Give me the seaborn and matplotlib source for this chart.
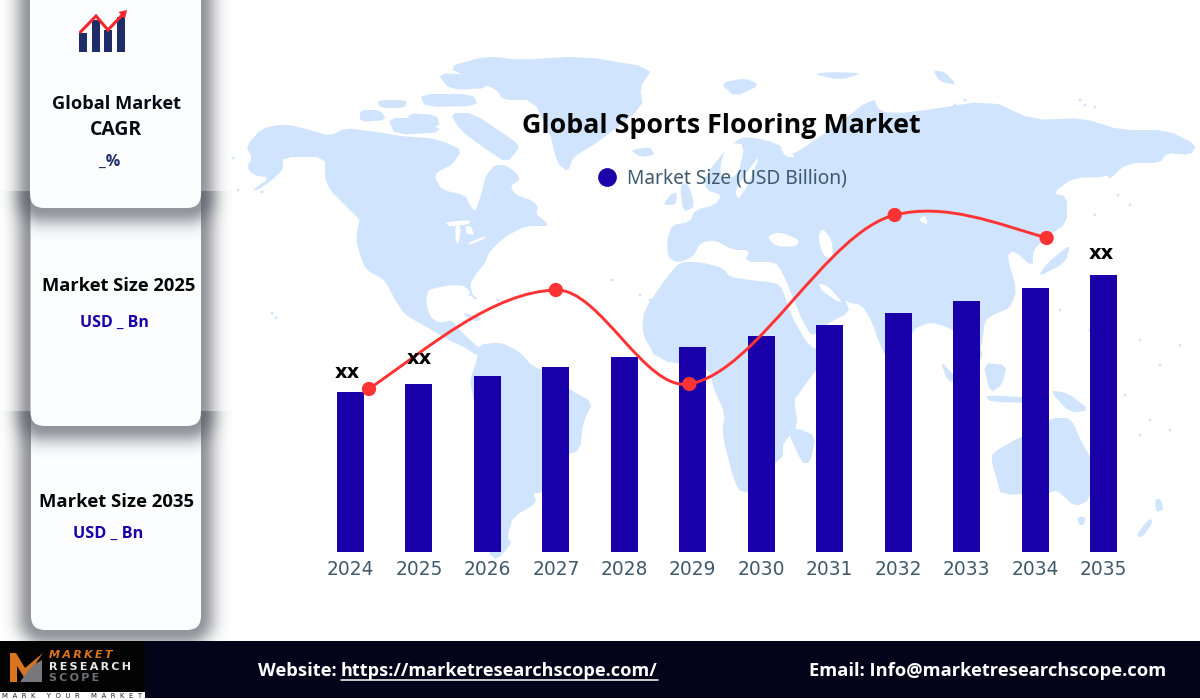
import numpy as np
import pandas as pd
import matplotlib
matplotlib.use("Agg")
import matplotlib.pyplot as plt
import matplotlib.font_manager as fm
import matplotlib.patheffects as pe
import seaborn as sns
from matplotlib.patches import Polygon, Rectangle, PathPatch, FancyBboxPatch, Circle
from matplotlib.path import Path
from matplotlib.lines import Line2D

# ---------- data ----------
years = ["2024", "2025", "2026", "2027", "2028", "2029", "2030", "2031", "2032", "2033", "2034", "2035"]
market_size = [1.60, 1.68, 1.76, 1.85, 1.95, 2.05, 2.16, 2.27, 2.39, 2.51, 2.64, 2.77]
curve_x = [0.27, 3.0, 4.95, 7.95, 10.17]
curve_y = [1.63, 2.62, 1.68, 3.37, 3.14]
curve_slope = [0.48, 0.02, 0.12, 0.17, -0.20]
xx_x = [-0.05, 1.0, 10.97]
xx_y = [1.80, 1.94, 2.98]
title_text = "Global Sports Flooring Market"
legend_text = "Market Size (USD Billion)"

NAVY = "#1a00a8"
RED = "#ff3333"
MAP = "#d0e5fd"
SLATE = "#3f5a6c"
FONT = "Noto Sans"


def _weight(f):
    return f.weight if isinstance(f.weight, int) else fm.weight_dict.get(str(f.weight), 400)


BOLD_FONT = None
for cand in ["Noto Sans", "Open Sans", "Lato", "Roboto", "Inter"]:
    if any(f.name == cand and _weight(f) >= 600 for f in fm.fontManager.ttflist):
        BOLD_FONT = cand
        break
FAKE = BOLD_FONT is None
if FAKE:
    BOLD_FONT = FONT

sns.set_theme(style="white")
plt.rcParams["font.family"] = [FONT, "DejaVu Sans"]

fig = plt.figure(figsize=(12, 7), dpi=100, facecolor="white")
bg = fig.add_axes([0, 0, 1, 1], zorder=0)
bg.set_xlim(0, 1200)
bg.set_ylim(700, 0)
bg.axis("off")
renderer = fig.canvas.get_renderer()


def bold_text(owner, x, y, s, width, color, z=9, ha="center", **kw):
    """Bold text scaled so that it spans the given width in pixels."""
    t = owner.text(x, y + 2, s, ha=ha, va="center", fontsize=12, fontweight="bold", color=color,
                   family=BOLD_FONT, zorder=z, **kw)
    t.set_fontsize(12 * width / t.get_window_extent(renderer).width)
    if FAKE:
        t.set_path_effects([pe.withStroke(linewidth=0.75, foreground=color)])
    return t


def chaikin(pts, n=1):
    p = np.asarray(pts, float)
    for _ in range(n):
        q = np.roll(p, -1, axis=0)
        p = np.column_stack([0.8 * p + 0.2 * q, 0.2 * p + 0.8 * q]).reshape(-1, 2)
    return p


def land(pts, color=MAP, z=1, n=1):
    bg.add_patch(Polygon(chaikin(pts, n), closed=True, fc=color, ec="none", zorder=z))


# ---------- world map backdrop ----------
north_america = [(246,146),(262,128),(285,124),(310,130),(330,136),(345,128),(378,132),(400,136),(430,138),(445,142),(462,150),
    (452,165),(437,172),(435,178),(442,190),(465,195),(470,205),(475,212),(481,195),(486,175),(495,165),(505,165),(516,172),(520,180),
    (510,186),(516,195),(531,200),(538,206),(536,214),(546,222),(548,226),(526,226),(508,235),(497,244),(488,254),(486,262),(476,274),
    (470,284),(473,296),(478,298),(474,300),(466,286),(450,285),(436,288),(428,290),(426,304),(431,318),(440,323),(452,320),(458,328),
    (470,340),(484,352),(478,356),(462,346),(448,340),(425,326),(405,315),(395,300),(385,280),(366,270),(360,255),(356,240),(358,226),
    (360,220),(342,202),(330,190),(325,178),(325,157),(283,157),(283,170),(272,180),(258,190),(252,190),(270,178),(253,175),(247,167),(252,158)]
greenland = [(447,67),(487,56),(520,60),(583,56),(653,68),(640,87),(643,107),(597,143),(573,157),(568,172),(557,163),(550,133),(533,100),(503,100),(497,90),(473,80)]
arctic = [
    [(450,113),(473,113),(513,140),(520,147),(507,163),(487,150),(460,130)],
    [(360,110),(380,110),(387,120),(360,122)],
    [(407,113),(437,115),(440,127),(412,128)],
    [(377,100),(407,100),(405,108),(380,108)],
    [(437,73),(477,75),(490,88),(450,90)],
    [(420,94),(473,94),(478,106),(425,107)],
    [(388,118),(420,118),(445,132),(395,135)],
    [(630,150),(650,147),(655,155),(640,157)],
    [(663,205),(670,195),(677,192),(676,205)],
    [(680,185),(688,183),(695,207),(683,212)],
]
south_america = [(478,345),(500,342),(520,352),(533,367),(552,372),(570,390),(593,402),(583,423),(580,450),(567,455),(542,493),(533,493),(537,503),(513,517),(507,537),(512,543),(497,560),(488,553),(490,510),(490,470),(478,425),(473,397),(470,380),(477,360)]
africa = [(667,277),(680,262),(700,262),(723,268),(730,277),(750,280),(777,283),(783,290),(790,313),(809,347),(830,352),(816,370),(798,395),(794,400),(798,427),(783,443),(783,457),(775,463),(748,493),(738,490),(731,470),(722,433),(725,413),(714,390),(709,368),(657,360),(642,333),(644,310)]
eurasia = [(667,240),(672,225),(690,222),(695,210),(715,205),(722,195),(706,190),(705,175),(730,145),(745,136),(777,143),(790,155),(800,150),(815,140),(830,130),(873,97),(880,112),(907,113),(990,100),(1033,120),(1083,118),(1120,130),(1167,130),(1197,145),(1190,155),(1167,153),(1160,163),(1130,163),(1107,177),(1073,178),(1053,193),(1067,197),(1067,223),(1047,237),(1033,250),(1033,267),(1013,250),(1007,257),(1017,290),(1010,308),(995,314),(985,320),(982,345),(975,362),(965,340),(950,328),(930,322),(912,330),(895,375),(880,345),(872,322),(862,305),(850,303),(845,300),(850,312),(825,325),(812,337),(802,320),(790,290),(782,272),(775,262),(745,262),(750,250),(733,250),(715,240),(700,243),(693,257),(677,263),(668,257)]
others = [
    [(788,432),(797,428),(816,436),(810,463),(802,463)],
    [(983,363),(1007,365),(1002,385),(990,393)],
    [(1049,390),(1068,393),(1090,410),(1070,413)],
    [(992,453),(1020,437),(1040,432),(1050,418),(1071,418),(1082,443),(1095,465),(1090,500),(1075,507),(1057,490),(1049,493),(1001,495),(997,480),(992,463)],
    [(1077,517),(1086,517),(1084,525),(1079,525)],
    [(1136,535),(1150,518),(1153,522),(1142,538)],
    [(1155,500),(1160,498),(1164,510),(1156,512)],
    [(1067,247),(1070,247),(1065,263),(1038,277),(1047,263)],
    [(1115,150),(1128,160),(1110,180),(1105,172)],
    [(720,83),(745,78),(760,85),(735,97)],
    [(813,74),(830,72),(863,73),(840,80)],
    [(933,70),(945,72),(957,85),(940,82)],
    [(968,345),(984,350),(976,372)],
    [(940,360),(958,380),(948,382)],
    [(985,395),(1040,398),(1040,403),(990,402)],
    [(460,312),(483,318),(475,322)],
]
for shape in [north_america, greenland, south_america, africa, eurasia] + arctic + others:
    land(shape)

seas = [
    [(767,236),(780,232),(800,240),(795,247),(775,246)],
    [(822,228),(832,240),(833,260),(823,255),(818,238)],
    [(728,142),(745,145),(738,175),(722,180),(720,165)],
    [(735,190),(750,168),(760,155),(748,185),(738,200)],
    [(780,147),(790,150),(795,158),(785,156)],
    [(445,222),(470,220),(470,224),(450,227)],
    [(455,226),(461,226),(459,243),(456,243)],
    [(465,226),(471,226),(474,235),(467,234)],
    [(468,243),(485,236),(486,238),(470,245)],
    [(818,283),(828,286),(843,303),(835,300),(822,291)],
    [(925,215),(928,225),(918,220)],
]
for s in seas:
    land(s, "white", 1.1)
for (x, y) in [(233,158),(238,190),(262,192),(272,313),(276,318),(445,327),(470,295),(498,300),(612,280),(640,295),(650,300),
               (1090,330),(1060,310),(1092,352),(1110,358),(1140,340),(1160,365),(1180,345),(1115,420),(1140,435),(1125,395),(1150,420),(1170,430),
               (1095,215),(1118,195),(1130,205),(1145,155),(1080,100),(1085,105),(1095,107),(955,105),(965,100)]:
    bg.add_patch(Circle((x, y), 1.4, fc=MAP, ec="none", zorder=1))


# ---------- side cards with soft shadows ----------
def card(x0, top_visible, x1, y1, r, z):
    """Card whose upper part runs far above the crop that is drawn, so its shadow starts with a hard step."""
    y0 = top_visible - 200
    xs = np.arange(0, 232)
    ys = np.arange(max(top_visible, 0), min(y1 + 32, 700))
    X, Y = np.meshgrid(xs + 0.5, ys + 0.5)
    qx = np.abs(X - (x0 + x1) / 2) - (x1 - x0) / 2 + r
    qy = np.abs(Y - 2 - (y0 + y1) / 2) - (y1 - y0) / 2 + r
    d = np.maximum(np.hypot(np.maximum(qx, 0), np.maximum(qy, 0)) - r, 0)
    a = 0.62 * np.exp(-(d / 15.0) ** 2)
    rgba = np.zeros(X.shape + (4,))
    rgba[..., :3] = (0.33, 0.34, 0.38)
    rgba[..., 3] = a
    bg.imshow(rgba, extent=(0, 232, ys[-1] + 1, ys[0]), zorder=z, interpolation="bilinear", aspect="auto")
    bg.add_patch(FancyBboxPatch((x0 + r, y0 + r), x1 - x0 - 2 * r, y1 - y0 - 2 * r,
                                boxstyle=f"round,pad={r},rounding_size={r}", fc="#fcfdff", ec="none", zorder=z + 0.1))


card(31, 411, 201, 630, 14, 2)
card(30.5, 191, 201, 426, 14, 3)
card(30, 0, 201, 208, 14, 4)
bg.set_xlim(0, 1200)
bg.set_ylim(700, 0)

# icon in the first card
for bx, top in zip([79, 92, 104, 117], [33, 20, 30, 17]):
    bg.add_patch(Rectangle((bx, top), 8, 52 - top, fc="#1f2d66", ec="none", zorder=5))
bg.plot([80.5, 96, 108, 124], [32, 16, 30, 13], color="#f0282d", lw=2.2, zorder=6, solid_joinstyle="miter")
bg.add_patch(Polygon([(127, 10), (118.5, 12), (125, 19)], fc="#f0282d", ec="none", zorder=6))

card_texts = [
    (116.5, 102, "Global Market", 129, "#0a0a14"),
    (116, 128, "CAGR", 52, "#0a0a14"),
    (110, 160, "_%", 21, "#1f2d66"),
    (118.5, 284, "Market Size 2025", 153, "#050505"),
    (114.5, 321, "USD _ Bn", 69, NAVY),
    (116.5, 500, "Market Size 2035", 154, "#050505"),
    (108, 532, "USD _ Bn", 70, NAVY),
]
for x, y, s, w, c in card_texts:
    bold_text(bg, x, y, s, w, c, z=7)

# ---------- footer ----------
bg.add_patch(Rectangle((0, 641), 1200, 56.5, fc="#04031a", ec="none", zorder=8))
bg.add_patch(Rectangle((0, 641), 145, 51, fc="#030303", ec="none", zorder=8.1))
bg.add_patch(Rectangle((0, 692), 145, 8, fc="white", ec="none", zorder=8.1))
bg.add_patch(Polygon([(10, 653), (16, 653), (25, 668), (43, 653), (36, 663), (36, 669), (27, 682), (17, 666), (17, 682), (10, 682)],
                     fc="#d9741f", ec="none", zorder=8.2))
bg.add_patch(Polygon([(20, 682), (27, 672), (33, 665), (42, 660), (42, 682)], fc="#77777c", ec="none", zorder=8.2))
gap = "\u2009"
bg.text(49, 655.5, gap.join("MARKET"), color="#d9741f", fontsize=8, fontweight="bold", va="center", zorder=9, family="DejaVu Sans", style="italic")
bg.text(49, 667, gap.join("RESEARCH"), color="#e8e8e8", fontsize=8, fontweight="bold", va="center", zorder=9, family="DejaVu Sans")
bg.text(49, 678, gap.join("SCOPE"), color="#6d6f75", fontsize=8, fontweight="bold", va="center", zorder=9, family="DejaVu Sans")
bg.text(72.5, 696, "M  A  R  K     Y  O  U  R     M  A  R  K  E  T", color="#222222", fontsize=5, ha="center", va="center", zorder=9, family="DejaVu Sans")

bold_text(bg, 258, 669.5, "Website:", 79, "white", ha="left")
url = bold_text(bg, 341, 669.5, "https://marketresearchscope.com/", 315, "white", ha="left")
bold_text(bg, 809, 669.5, "Email: Info@marketresearchscope.com", 356, "white", ha="left")
ext = url.get_window_extent(renderer)
bg.plot([ext.x0, ext.x1], [680, 680], color="white", lw=1.1, zorder=9)

# ---------- main chart ----------
ax = fig.add_axes([316.3 / 1200, (700 - 552) / 700, 821.4 / 1200, 472 / 700], zorder=2)
ax.patch.set_alpha(0)
df = pd.DataFrame({"Year": years, "Market Size (USD Billion)": market_size})
sns.barplot(data=df, x="Year", y="Market Size (USD Billion)", color=NAVY, saturation=1, width=0.395, linewidth=0, ax=ax, zorder=3)
ax.set_xlim(-0.5, 11.5)
ax.set_ylim(0, 4.72)
ax.set_xlabel("")
ax.set_ylabel("")
ax.set_yticks([])
ax.tick_params(axis="x", length=0, pad=6)
for lab in ax.get_xticklabels():
    lab.set_fontsize(13.4)
    lab.set_color(SLATE)
    lab.set_family("DejaVu Sans")
sns.despine(ax=ax, left=True, bottom=True)

verts = [(curve_x[0], curve_y[0])]
codes = [Path.MOVETO]
for i in range(len(curve_x) - 1):
    dx = curve_x[i + 1] - curve_x[i]
    verts += [(curve_x[i] + dx / 3, curve_y[i] + curve_slope[i] * dx / 3),
              (curve_x[i + 1] - dx / 3, curve_y[i + 1] - curve_slope[i + 1] * dx / 3),
              (curve_x[i + 1], curve_y[i + 1])]
    codes += [Path.CURVE4] * 3
ax.add_patch(PathPatch(Path(verts, codes), fc="none", ec=RED, lw=2.1, zorder=4, capstyle="round"))
sns.scatterplot(x=curve_x, y=curve_y, color=RED, s=105, edgecolor="none", ax=ax, zorder=5, legend=False)
ax.set_xlim(-0.5, 11.5)
ax.set_ylim(0, 4.72)

for x, y in zip(xx_x, xx_y):
    ax.text(x, y, "xx", ha="center", va="center", fontsize=14, fontweight="bold", color="black", family="DejaVu Sans", zorder=6)

bold_text(bg, 721.5, 124, title_text, 397, "#050505", z=1.5)

handle = Line2D([], [], linestyle="none", marker="o", markersize=13.5, color=NAVY, markeredgecolor="none")
fig.legend(handles=[handle], labels=[legend_text], loc="center left", bbox_to_anchor=(578 / 1200, 1 - 178.5 / 700), frameon=False,
           fontsize=13.8, labelcolor=SLATE, handletextpad=0.05, borderpad=0, handlelength=2)

fig.savefig("out.png", dpi=100)
